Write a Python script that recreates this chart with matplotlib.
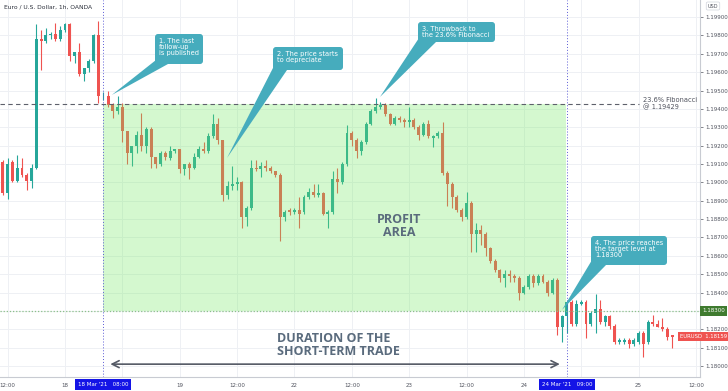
import matplotlib
matplotlib.use('Agg')

import matplotlib.pyplot as plt
import numpy as np
from matplotlib.patches import Rectangle, FancyBboxPatch, Polygon
from matplotlib.transforms import IdentityTransform

# EUR/USD 1h bars, hour index counted from 18 Mar 00:00 (weekend hours skipped)
first_hour = -13
opens = [1.1911, 1.1894, 1.1911, 1.1901, 1.1908, 1.1904, 1.1901, 1.1908, 1.1978, 1.1977,
         1.1980, 1.1981, 1.1978, 1.1983, 1.1986, 1.1969, 1.1971, 1.1959, 1.1962, 1.1966,
         1.1980, 1.1947, 1.1947, 1.1942, 1.1939, 1.1941, 1.1928, 1.1916, 1.1920, 1.1926,
         1.1920, 1.1929, 1.1914, 1.1910, 1.1916, 1.1913, 1.1917, 1.1918, 1.1907, 1.1910,
         1.1908, 1.1914, 1.1918, 1.1917, 1.1925, 1.1932, 1.1923, 1.1893, 1.1898, 1.1899,
         1.1900, 1.1881, 1.1886, 1.1908, 1.1907, 1.1909, 1.1908, 1.1906, 1.1904, 1.1881,
         1.1885, 1.1884, 1.1885, 1.1884, 1.1892, 1.1895, 1.1893, 1.1894, 1.1883, 1.1884,
         1.1902, 1.1900, 1.1910, 1.1927, 1.1923, 1.1917, 1.1922, 1.1932, 1.1939, 1.1941,
         1.1942, 1.1937, 1.1932, 1.1935, 1.1934, 1.1933, 1.1934, 1.1930, 1.1926, 1.1932,
         1.1924, 1.1925, 1.1927, 1.1905, 1.1899, 1.1892, 1.1885, 1.1881, 1.1889, 1.1872,
         1.1874, 1.1872, 1.1864, 1.1857, 1.1852, 1.1848, 1.1850, 1.1849, 1.1848, 1.1840,
         1.1843, 1.1849, 1.1845, 1.1849, 1.1846, 1.1840, 1.1847, 1.1821, 1.1827, 1.1835,
         1.1823, 1.1834, 1.1835, 1.1823, 1.1829, 1.1831, 1.1824, 1.1827, 1.1822, 1.1813,
         1.1813, 1.1814, 1.1812, 1.1813, 1.1818, 1.1813, 1.1824, 1.1823, 1.1821, 1.1820,
         1.1817]
highs = [1.1912, 1.1913, 1.1912, 1.1915, 1.1913, 1.1905, 1.1910, 1.1986, 1.1983, 1.1984,
         1.1982, 1.1987, 1.1985, 1.1987, 1.1987, 1.1971, 1.1976, 1.1962, 1.1967, 1.1981,
         1.1988, 1.1949, 1.1950, 1.1943, 1.1947, 1.1943, 1.1928, 1.1920, 1.1928, 1.1938,
         1.1930, 1.1930, 1.1914, 1.1917, 1.1917, 1.1920, 1.1918, 1.1918, 1.1910, 1.1911,
         1.1916, 1.1920, 1.1922, 1.1927, 1.1937, 1.1935, 1.1923, 1.1901, 1.1909, 1.1903,
         1.1901, 1.1887, 1.1912, 1.1912, 1.1911, 1.1912, 1.1909, 1.1906, 1.1905, 1.1885,
         1.1886, 1.1886, 1.1892, 1.1893, 1.1897, 1.1899, 1.1899, 1.1895, 1.1885, 1.1906,
         1.1908, 1.1911, 1.1931, 1.1928, 1.1924, 1.1923, 1.1933, 1.1940, 1.1946, 1.1944,
         1.1943, 1.1938, 1.1936, 1.1936, 1.1935, 1.1941, 1.1935, 1.1931, 1.1933, 1.1934,
         1.1926, 1.1928, 1.1933, 1.1906, 1.1900, 1.1893, 1.1886, 1.1895, 1.1890, 1.1878,
         1.1877, 1.1873, 1.1865, 1.1858, 1.1853, 1.1852, 1.1852, 1.1850, 1.1849, 1.1844,
         1.1850, 1.1850, 1.1850, 1.1850, 1.1847, 1.1848, 1.1848, 1.1828, 1.1836, 1.1836,
         1.1836, 1.1836, 1.1836, 1.1830, 1.1839, 1.1836, 1.1828, 1.1828, 1.1823, 1.1815,
         1.1815, 1.1815, 1.1815, 1.1819, 1.1819, 1.1825, 1.1828, 1.1825, 1.1826, 1.1821,
         1.1817]
lows = [1.1893, 1.1891, 1.1900, 1.1900, 1.1903, 1.1896, 1.1897, 1.1907, 1.1961, 1.1976,
        1.1978, 1.1977, 1.1977, 1.1982, 1.1966, 1.1965, 1.1958, 1.1955, 1.1960, 1.1965,
        1.1943, 1.1945, 1.1941, 1.1935, 1.1937, 1.1922, 1.1910, 1.1909, 1.1916, 1.1917,
        1.1916, 1.1908, 1.1908, 1.1909, 1.1912, 1.1912, 1.1916, 1.1905, 1.1904, 1.1902,
        1.1907, 1.1913, 1.1916, 1.1916, 1.1924, 1.1921, 1.1890, 1.1891, 1.1896, 1.1896,
        1.1875, 1.1876, 1.1885, 1.1906, 1.1903, 1.1906, 1.1905, 1.1903, 1.1868, 1.1879,
        1.1882, 1.1883, 1.1875, 1.1883, 1.1891, 1.1892, 1.1892, 1.1882, 1.1875, 1.1883,
        1.1894, 1.1899, 1.1909, 1.1920, 1.1913, 1.1915, 1.1921, 1.1931, 1.1938, 1.1940,
        1.1936, 1.1931, 1.1931, 1.1933, 1.1930, 1.1930, 1.1929, 1.1923, 1.1925, 1.1924,
        1.1919, 1.1924, 1.1904, 1.1887, 1.1886, 1.1884, 1.1879, 1.1880, 1.1862, 1.1862,
        1.1866, 1.1860, 1.1856, 1.1851, 1.1846, 1.1843, 1.1846, 1.1846, 1.1836, 1.1839,
        1.1842, 1.1843, 1.1844, 1.1845, 1.1838, 1.1839, 1.1817, 1.1813, 1.1818, 1.1822,
        1.1822, 1.1833, 1.1815, 1.1822, 1.1818, 1.1823, 1.1822, 1.1820, 1.1812, 1.1812,
        1.1812, 1.1810, 1.1811, 1.1812, 1.1805, 1.1812, 1.1822, 1.1821, 1.1819, 1.1814,
        1.1810]
closes = [1.1894, 1.1910, 1.1901, 1.1908, 1.1904, 1.1901, 1.1908, 1.1978, 1.1977, 1.1980,
          1.1981, 1.1978, 1.1983, 1.1986, 1.1969, 1.1971, 1.1959, 1.1962, 1.1966, 1.1980,
          1.1947, 1.1947, 1.1942, 1.1939, 1.1941, 1.1928, 1.1916, 1.1920, 1.1926, 1.1920,
          1.1929, 1.1914, 1.1910, 1.1916, 1.1914, 1.1917, 1.1918, 1.1907, 1.1910, 1.1908,
          1.1914, 1.1918, 1.1917, 1.1925, 1.1932, 1.1923, 1.1893, 1.1898, 1.1899, 1.1900,
          1.1881, 1.1886, 1.1908, 1.1907, 1.1909, 1.1908, 1.1906, 1.1904, 1.1881, 1.1884,
          1.1884, 1.1885, 1.1883, 1.1892, 1.1895, 1.1893, 1.1894, 1.1883, 1.1884, 1.1902,
          1.1900, 1.1910, 1.1927, 1.1923, 1.1917, 1.1922, 1.1932, 1.1939, 1.1941, 1.1942,
          1.1937, 1.1932, 1.1935, 1.1934, 1.1933, 1.1934, 1.1930, 1.1926, 1.1932, 1.1925,
          1.1925, 1.1927, 1.1905, 1.1899, 1.1892, 1.1885, 1.1881, 1.1889, 1.1872, 1.1874,
          1.1872, 1.1864, 1.1857, 1.1852, 1.1848, 1.1850, 1.1849, 1.1848, 1.1840, 1.1843,
          1.1849, 1.1845, 1.1849, 1.1846, 1.1840, 1.1847, 1.1821, 1.1827, 1.1835, 1.1823,
          1.1834, 1.1835, 1.1823, 1.1829, 1.1831, 1.1824, 1.1827, 1.1822, 1.1813, 1.1814,
          1.1814, 1.1812, 1.1814, 1.1818, 1.1812, 1.1824, 1.1823, 1.1821, 1.1820, 1.1816,
          1.18159]

# x axis labels (hour index -> label)
tick_hours = [-12, 0, 24, 36, 48, 60, 72, 84, 96, 120, 132]
tick_labels = ['12:00', '18', '19', '12:00', '22', '12:00', '23', '12:00', '24', '25', '12:00']
grid_hours = [-12, 0, 12, 24, 36, 48, 60, 72, 84, 96, 108, 120, 132]

# trade markers
trade_start = 8      # 18 Mar '21 08:00
trade_end = 105      # 24 Mar '21 09:00
fib_level = 1.19429
target_level = 1.18300
last_price = 1.18159

up_col = '#26a69a'
down_col = '#ef5350'

W, H = 728, 391
fig = plt.figure(figsize=(W / 100, H / 100), dpi=100)
fig.patch.set_facecolor('white')
ax = fig.add_axes([0, 14 / H, 700 / W, 377 / H])
ax.set_xlim(-13.6, 132.85)
ax.set_ylim(1.17940, 1.19993)

# grid
for g in grid_hours:
    ax.axvline(g, color='#eef0f4', lw=0.7, zorder=0)
for lv in np.arange(1.180, 1.1995, 0.001):
    ax.axhline(lv, color='#eef0f4', lw=0.7, zorder=0)

# candles
o = np.array(opens)
h = np.array(highs)
l = np.array(lows)
c = np.array(closes)
x = np.arange(first_hour, first_hour + len(o))
cols = [up_col if cc >= oo else down_col for oo, cc in zip(o, c)]
body_lo = np.minimum(o, c)
body_h = np.maximum(np.abs(c - o), 0.00002)
ax.vlines(x, l, h, colors=cols, lw=0.8, zorder=2)
ax.bar(x, body_h, bottom=body_lo, width=0.62, color=cols, linewidth=0, zorder=2)

# profit area overlay
ax.add_patch(Rectangle((trade_start - 0.05, target_level), trade_end - 0.2 - trade_start,
                       fib_level - target_level, facecolor=(0.45, 0.92, 0.38),
                       alpha=0.3, lw=0, zorder=3))

# levels
ax.hlines(fib_level, -13.6, 120, colors='#5d606b', linestyles=(0, (4, 3)), lw=0.8, zorder=4)
ax.axhline(target_level, color='#8cc08a', ls=(0, (1, 1.5)), lw=0.9, zorder=4)
ax.axvline(trade_start, color='#5b5bd6', ls=(0, (1, 2)), lw=0.7, zorder=4)
ax.axvline(trade_end, color='#5b5bd6', ls=(0, (1, 2)), lw=0.7, zorder=4)

ax.text(121, fib_level, '23.6% Fibonacci\n@ 1.19429', fontsize=4.8, color='#50535e',
        ha='left', va='center', linespacing=1.0, zorder=5)

# duration arrow
ax.annotate('', xy=(trade_start + 0.9, 1.1801), xytext=(trade_end - 0.9, 1.1801),
            arrowprops=dict(arrowstyle='<->,head_length=0.5,head_width=0.25',
                            color='#555a66', lw=1.2), zorder=5)
ax.text(44.4, 1.18113, 'DURATION OF THE\nSHORT-TERM TRADE', fontsize=9,
        family=['Open Sans', 'DejaVu Sans'], fontweight='bold', color='#5a6b7d',
        ha='left', va='center', linespacing=1.0, zorder=5)
ax.text(69.9, 1.18763, 'PROFIT\nAREA', fontsize=9, family=['Open Sans', 'DejaVu Sans'],
        fontweight='bold', color='#5a6b7d', ha='center', va='center',
        linespacing=1.0, zorder=5)

# axes styling
for s in ['top', 'left']:
    ax.spines[s].set_visible(False)
ax.spines['right'].set_color('#c8cbd2')
ax.spines['bottom'].set_color('#c8cbd2')
ax.spines['right'].set_linewidth(0.8)
ax.spines['bottom'].set_linewidth(0.8)
ax.yaxis.tick_right()
yt = np.arange(1.180, 1.1995, 0.001)
ax.set_yticks(yt)
# the 1.18300 tick is covered by the target label box
ax.set_yticklabels(['' if abs(v - target_level) < 1e-6 else f'{v:.5f}' for v in yt])
ax.set_xticks(tick_hours)
ax.set_xticklabels(tick_labels)
ax.tick_params(axis='y', labelsize=4, colors='#50535e', length=2, width=0.5, pad=2)
ax.tick_params(axis='x', labelsize=4, colors='#50535e', length=0, pad=4)

# price labels on right axis
ax.text(1.003, target_level, '1.18300', transform=ax.get_yaxis_transform(), ha='left',
        va='center', fontsize=4, color='white', clip_on=False, zorder=10,
        bbox=dict(boxstyle='square,pad=0.4', fc='#3f7b2f', ec='none'))
ax.text(0.971, last_price, 'EURUSD  1.18159', transform=ax.get_yaxis_transform(),
        ha='left', va='center', fontsize=3.8, color='white', clip_on=False, zorder=10,
        bbox=dict(boxstyle='square,pad=0.35', fc=down_col, ec='none'))

# highlighted dates on time axis
for hr, lab in [(trade_start, "18 Mar '21   08:00"), (trade_end, "24 Mar '21   09:00")]:
    ax.text(hr, -0.02, lab, transform=ax.get_xaxis_transform(), ha='center', va='center',
            fontsize=4, color='white', clip_on=False, zorder=10,
            bbox=dict(boxstyle='square,pad=0.5', fc='#1414e6', ec='none'))

fig.text(4 / W, 1 - 7 / H, 'Euro / U.S. Dollar, 1h, OANDA', fontsize=4.3, color='#2a2e39',
         ha='left', va='center')
fig.text(713 / W, 1 - 6 / H, 'USD', fontsize=3.6, color='#50535e', ha='center', va='center',
         bbox=dict(boxstyle='round,pad=0.3', fc='white', ec='#d1d4dc', lw=0.5))

# callouts (box in pixel coords, tip at a bar)
call_col = '#46acbd'
callouts = [
    ((155, 34, 203, 64), (156, 60, 168, 64), (9.8, 1.19476), '1. The last\nfollow-up\nis published'),
    ((273, 47, 343, 70), (274, 66, 287, 70), (33.9, 1.19133), '2. The price starts\nto depreciate'),
    ((418, 22, 495, 42), (419, 38, 436, 42), (65.9, 1.19465), '3. Throwback to\nthe 23.6% Fibonacci'),
    ((591, 236, 667, 265), (592, 260, 606, 265), (104, 1.18306),
     '4. The price reaches\nthe target level at\n1.18300'),
]
for (x0, y0, x1, y1), (bx0, by0, bx1, by1), tip, txt in callouts:
    tx, ty = ax.transData.transform(tip)
    fig.add_artist(Polygon([(bx0, H - by0), (bx1, H - by1), (tx, ty)], closed=True,
                           facecolor=call_col, edgecolor='none',
                           transform=IdentityTransform(), zorder=20))
    fig.add_artist(FancyBboxPatch((x0, H - y1), x1 - x0, y1 - y0,
                                  boxstyle='round,pad=0,rounding_size=3',
                                  facecolor=call_col, edgecolor='none',
                                  transform=IdentityTransform(), zorder=21))
    fig.text((x0 + 4) / W, 1 - (y0 + 4) / H, txt, fontsize=4.8, color='white',
             ha='left', va='top', linespacing=1.0, zorder=22)

fig.savefig('out.png', dpi=100)
